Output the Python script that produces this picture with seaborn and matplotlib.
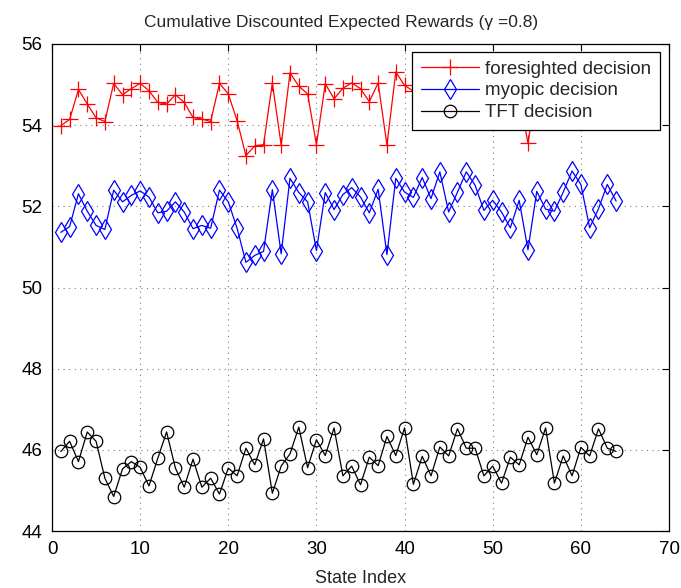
import matplotlib
matplotlib.use("Agg")
import matplotlib.pyplot as plt
import seaborn as sns

# State indices and cumulative discounted expected rewards per decision rule
state_index = list(range(1, 65))

foresighted = [
    53.99, 54.14, 54.88, 54.52, 54.18, 54.09, 55.03, 54.75, 54.90, 55.03,
    54.85, 54.56, 54.52, 54.75, 54.56, 54.19, 54.15, 54.09, 55.03, 54.77,
    54.11, 53.25, 53.49, 53.52, 55.04, 53.51, 55.29, 54.96, 54.77, 53.52,
    55.02, 54.65, 54.91, 55.04, 54.90, 54.58, 55.04, 53.51, 55.31, 54.98,
    54.84, 55.33, 54.81, 55.47, 54.48, 54.97, 55.47, 55.14, 54.52, 54.77,
    54.48, 54.28, 54.77, 53.55, 54.99, 54.55, 54.50, 54.97, 55.49, 55.16,
    54.30, 54.56, 55.16, 54.75,
]

myopic = [
    51.36, 51.50, 52.31, 51.88, 51.53, 51.43, 52.40, 52.11, 52.27, 52.38,
    52.23, 51.84, 51.88, 52.11, 51.86, 51.45, 51.53, 51.46, 52.40, 52.11,
    51.46, 50.62, 50.79, 50.89, 52.41, 50.83, 52.69, 52.34, 52.11, 50.91,
    52.34, 51.92, 52.29, 52.46, 52.23, 51.84, 52.42, 50.81, 52.69, 52.35,
    52.22, 52.71, 52.19, 52.85, 51.86, 52.35, 52.85, 52.52, 51.90, 52.15,
    51.86, 51.47, 52.15, 50.93, 52.37, 51.93, 51.88, 52.35, 52.87, 52.54,
    51.47, 51.94, 52.54, 52.13,
]

tft = [
    45.96, 46.21, 45.71, 46.44, 46.21, 45.30, 44.85, 45.53, 45.71, 45.57,
    45.11, 45.79, 46.44, 45.55, 45.08, 45.77, 45.08, 45.30, 44.91, 45.55,
    45.36, 46.04, 45.63, 46.27, 44.93, 45.60, 45.90, 46.56, 45.56, 46.25,
    45.86, 46.54, 45.36, 45.60, 45.14, 45.82, 45.61, 46.33, 45.86, 46.54,
    45.15, 45.84, 45.36, 46.07, 45.85, 46.52, 46.04, 46.04, 45.36, 45.60,
    45.18, 45.82, 45.63, 46.31, 45.88, 46.54, 45.18, 45.85, 45.36, 46.06,
    45.85, 46.52, 46.04, 45.96,
]

series_labels = ["foresighted decision", "myopic decision", "TFT decision"]
series_colors = ["#ff0000", "#0000ff", "#000000"]
series_markers = ["+", "d", "o"]
series_sizes = [12, 10, 9]

x_ticks = list(range(0, 71, 10))
y_ticks = list(range(44, 57, 2))

sns.set_style("white")
plt.rcParams["font.family"] = ["Liberation Sans", "DejaVu Sans"]

W, H = 681, 588
left, right, top, bottom = 52, 669, 44, 531
fig = plt.figure(figsize=(W / 100, H / 100), dpi=100)
ax = fig.add_axes([left / W, 1 - bottom / H, (right - left) / W, (bottom - top) / H])

for label, vals, color, marker, ms in zip(series_labels, [foresighted, myopic, tft],
                                          series_colors, series_markers, series_sizes):
    sns.lineplot(x=state_index, y=vals, ax=ax, color=color, marker=marker,
                 markersize=ms, markerfacecolor="none", markeredgecolor=color,
                 markeredgewidth=0.9, linewidth=0.9, label=label, zorder=3)

ax.set_xlim(0, 70)
ax.set_ylim(44, 56)
ax.set_xticks(x_ticks)
ax.set_yticks(y_ticks)
ax.tick_params(direction="in", length=5, width=0.8, top=True, right=True,
               labelsize=13.5, colors="black", pad=7)
for side in ax.spines.values():
    side.set_color("black")
    side.set_linewidth(0.9)
ax.grid(True, linestyle=(0, (1, 4)), color="#7f7f7f", linewidth=0.8)
ax.set_axisbelow(True)

ax.set_xlabel("State Index", fontsize=13, labelpad=9)
ax.set_title("Cumulative Discounted Expected Rewards (\u03b3 =0.8)", fontsize=12.5,
             pad=12, x=(341.5 - left) / (right - left))

leg = ax.legend(loc="upper right",
                bbox_to_anchor=((660 - left) / (right - left), 1 - 8 / (bottom - top)),
                borderaxespad=0, fontsize=13.5, frameon=True, fancybox=False,
                framealpha=1, edgecolor="black", handlelength=3.1,
                labelspacing=0.25, borderpad=0.45, handletextpad=0.35)
leg.get_frame().set_linewidth(0.9)
leg.set_zorder(10)

fig.savefig("out.png", dpi=100, facecolor="white")
